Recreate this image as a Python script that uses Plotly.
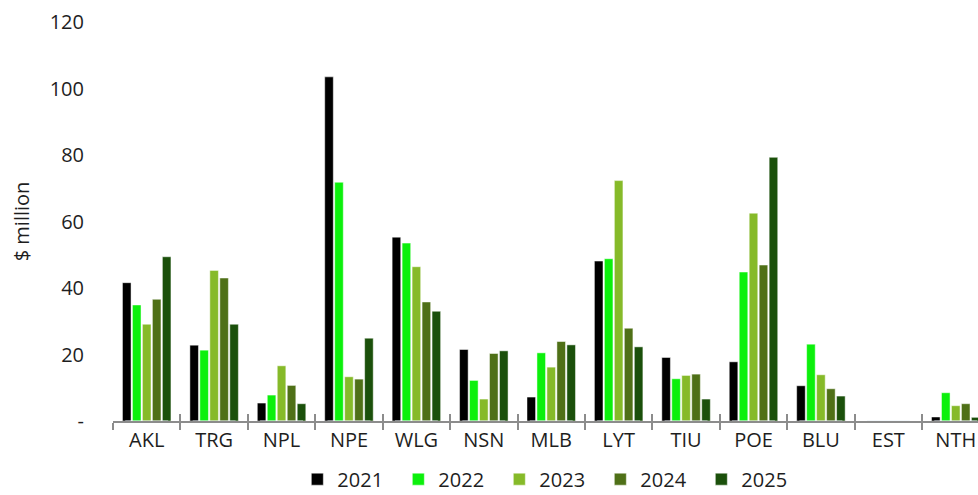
import plotly.graph_objects as go

# Ports and yearly values ($ million)
ports = ["AKL", "TRG", "NPL", "NPE", "WLG", "NSN", "MLB", "LYT", "TIU", "POE", "BLU", "EST", "NTH"]
years = ["2021", "2022", "2023", "2024", "2025"]

v2021 = [41.6, 22.8, 5.4, 103.5, 55.3, 21.5, 7.2, 48.1, 19.1, 17.8, 10.6, 0, 1.2]
v2022 = [34.9, 21.3, 7.8, 71.8, 53.5, 12.2, 20.5, 48.8, 12.7, 44.8, 23.1, 0, 8.5]
v2023 = [29.1, 45.3, 16.6, 13.3, 46.4, 6.6, 16.2, 72.3, 13.7, 62.5, 13.9, 0, 4.6]
v2024 = [36.6, 43.0, 10.7, 12.6, 35.8, 20.3, 23.9, 27.9, 14.1, 46.9, 9.7, 0, 5.2]
v2025 = [49.4, 29.1, 5.2, 24.9, 33.0, 21.1, 22.9, 22.3, 6.6, 79.3, 7.5, 0, 1.1]

series = [v2021, v2022, v2023, v2024, v2025]
colors = ["#000000", "#0CF00C", "#86BA29", "#4F7017", "#1B500B"]

y_ticks = [0, 20, 40, 60, 80, 100, 120]
y_ticktext = ["-", "20", "40", "60", "80", "100", "120"]

FONT = "Open Sans"
FS = 20
TXT = "#1E1E1E"

fig = go.Figure()
for name, vals, col in zip(years, series, colors):
    fig.add_trace(go.Bar(
        x=ports, y=vals, name=name,
        marker=dict(color=col, line=dict(color="rgba(255,255,255,0.6)", width=0.8)),
    ))

# invisible helper trace so the second x-axis draws its inner tick marks
fig.add_trace(go.Bar(x=ports, y=[0] * len(ports), xaxis="x2", showlegend=False,
                     hoverinfo="skip", marker=dict(color="rgba(0,0,0,0)")))

fig.update_layout(
    width=978, height=495,
    margin=dict(l=113, r=0, t=22, b=74, autoexpand=False),
    paper_bgcolor="white", plot_bgcolor="white",
    font=dict(family=FONT, size=FS, color=TXT),
    barmode="group", bargap=0.26, bargroupgap=0.14,
    showlegend=True,
    legend=dict(
        orientation="h", x=0.505, xanchor="center",
        yref="container", y=0.032, yanchor="middle",
        font=dict(family=FONT, size=FS, color=TXT),
        entrywidth=56, entrywidthmode="pixels", itemwidth=30,
        traceorder="normal",
    ),
    xaxis=dict(
        type="category", range=[-0.5, 12.33],
        showline=True, linecolor="#8C8C8C", linewidth=1.5,
        ticks="outside", tickson="boundaries", ticklen=7, tickcolor="#8C8C8C", tickwidth=1.5,
        showgrid=False, zeroline=False,
        tickfont=dict(family=FONT, size=FS, color=TXT),
    ),
    xaxis2=dict(
        type="category", range=[-0.5, 12.33], overlaying="x", matches="x",
        side="bottom", anchor="y",
        ticks="inside", tickson="boundaries", ticklen=7, tickcolor="#8C8C8C", tickwidth=1.5,
        showticklabels=False, showgrid=False, zeroline=False, showline=False,
    ),
    yaxis=dict(
        range=[0, 120], tickvals=y_ticks, ticktext=y_ticktext,
        showgrid=False, zeroline=False, showline=False,
        ticks="", ticklabelstandoff=28,
        tickfont=dict(family=FONT, size=FS, color=TXT),
        title=dict(text="$ million", font=dict(family=FONT, size=FS, color=TXT), standoff=14),
    ),
)

fig.write_html("out.html")
